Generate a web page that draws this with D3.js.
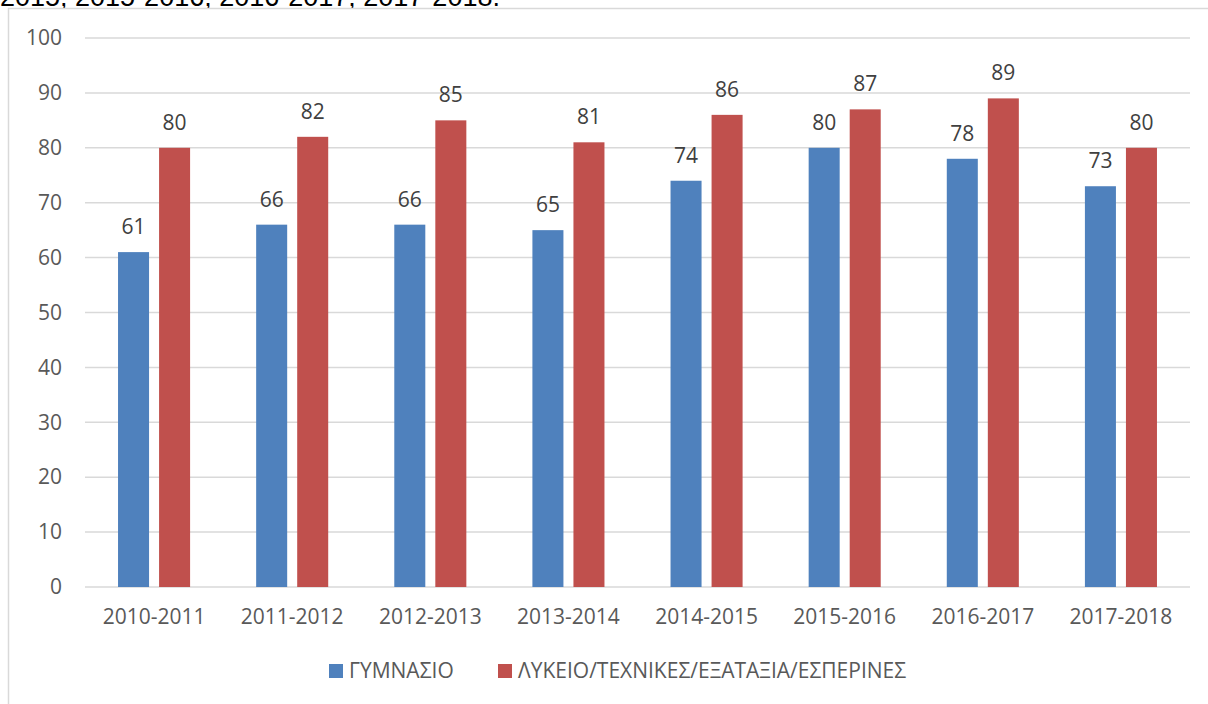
<!DOCTYPE html>
<html>
<head>
<meta charset="utf-8">
<script src="https://cdn.jsdelivr.net/npm/d3@7"></script>
<style>
  body { margin: 0; background: #fff; overflow: hidden; }
  svg { display: block; }
</style>
</head>
<body>
<div id="chart"></div>
<script>
// data
const years = ["2010-2011", "2011-2012", "2012-2013", "2013-2014",
               "2014-2015", "2015-2016", "2016-2017", "2017-2018"];
const gymnasio = [61, 66, 66, 65, 74, 80, 78, 73];
const lykeio = [80, 82, 85, 81, 86, 87, 89, 80];
const seriesNames = ["ΓΥΜΝΑΣΙΟ", "ΛΥΚΕΙΟ/ΤΕΧΝΙΚΕΣ/ΕΞΑΤΑΞΙΑ/ΕΣΠΕΡΙΝΕΣ"];
const yTicks = [0, 10, 20, 30, 40, 50, 60, 70, 80, 90, 100];

const W = 1208, H = 704;
const margin = { top: 38, right: 18, bottom: 117, left: 85 };
const width = W - margin.left - margin.right;
const height = H - margin.top - margin.bottom;
const font = "'Open Sans', sans-serif";
const colors = ["#4f81bd", "#c0504d"];

const svg = d3.select("#chart").append("svg")
    .attr("width", W)
    .attr("height", H);

// cut-off caption line above the chart (only its lower edge shows)
svg.append("text")
    .attr("x", 0)
    .attr("y", 6)
    .style("font-family", "'Liberation Sans', Arial, sans-serif")
    .style("font-size", "27px")
    .style("fill", "#000")
    .text("2015, 2015-2016, 2016-2017, 2017-2018.");

// chart frame
svg.append("rect")
    .attr("x", 8.5)
    .attr("y", 8.5)
    .attr("width", W + 20)
    .attr("height", H + 20)
    .style("fill", "#fff")
    .style("stroke", "#d9d9d9")
    .style("stroke-width", 1.5);

const g = svg.append("g")
    .attr("transform", `translate(${margin.left},${margin.top})`);

// scales
const x0 = d3.scaleBand()
    .domain(years)
    .range([0, width]);

const x1 = d3.scaleBand()
    .domain([0, 1])
    .range([0, x0.bandwidth()])
    .paddingInner(0.244)
    .paddingOuter(0.805);

const y = d3.scaleLinear()
    .domain([0, 100])
    .range([height, 0]);

// gridlines
g.append("g")
    .selectAll("line")
    .data(yTicks)
    .join("line")
    .attr("x1", 0)
    .attr("x2", width)
    .attr("y1", d => y(d))
    .attr("y2", d => y(d))
    .style("stroke", "#d9d9d9")
    .style("stroke-width", 1.5);

// y axis labels
const yAxis = g.append("g")
    .call(d3.axisLeft(y).tickValues(yTicks).tickSize(0).tickPadding(23));
yAxis.select(".domain").remove();
yAxis.selectAll("text")
    .style("font-family", font)
    .style("font-size", "21px")
    .style("fill", "#595959");

// x axis labels
const xAxis = g.append("g")
    .attr("transform", `translate(0,${height})`)
    .call(d3.axisBottom(x0).tickSize(0).tickPadding(22));
xAxis.select(".domain").remove();
xAxis.selectAll("text")
    .style("font-family", font)
    .style("font-size", "21px")
    .style("fill", "#595959");

// bars
const rows = years.map((yr, i) => ({ year: yr, values: [gymnasio[i], lykeio[i]] }));

const groups = g.selectAll(".year")
    .data(rows)
    .join("g")
    .attr("class", "year")
    .attr("transform", d => `translate(${x0(d.year)},0)`);

groups.selectAll("rect")
    .data(d => d.values.map((v, s) => ({ s, v })))
    .join("rect")
    .attr("x", d => x1(d.s))
    .attr("y", d => y(d.v))
    .attr("width", x1.bandwidth())
    .attr("height", d => height - y(d.v))
    .style("fill", d => colors[d.s]);

groups.selectAll(".label")
    .data(d => d.values.map((v, s) => ({ s, v })))
    .join("text")
    .attr("class", "label")
    .attr("x", d => x1(d.s) + x1.bandwidth() / 2)
    .attr("y", d => y(d.v) - 18)
    .style("text-anchor", "middle")
    .style("font-family", font)
    .style("font-size", "21px")
    .style("fill", "#404040")
    .text(d => d.v);

// legend
const legend = svg.append("g")
    .attr("transform", `translate(329, 664)`);

const legendX = [0, 169];
const items = legend.selectAll("g")
    .data(seriesNames)
    .join("g")
    .attr("transform", (d, i) => `translate(${legendX[i]},0)`);

items.append("rect")
    .attr("width", 14)
    .attr("height", 14)
    .style("fill", (d, i) => colors[i]);

items.append("text")
    .attr("x", 20)
    .attr("y", 14)
    .style("font-family", font)
    .style("font-size", "21px")
    .style("fill", "#595959")
    .text(d => d);
</script>
</body>
</html>
